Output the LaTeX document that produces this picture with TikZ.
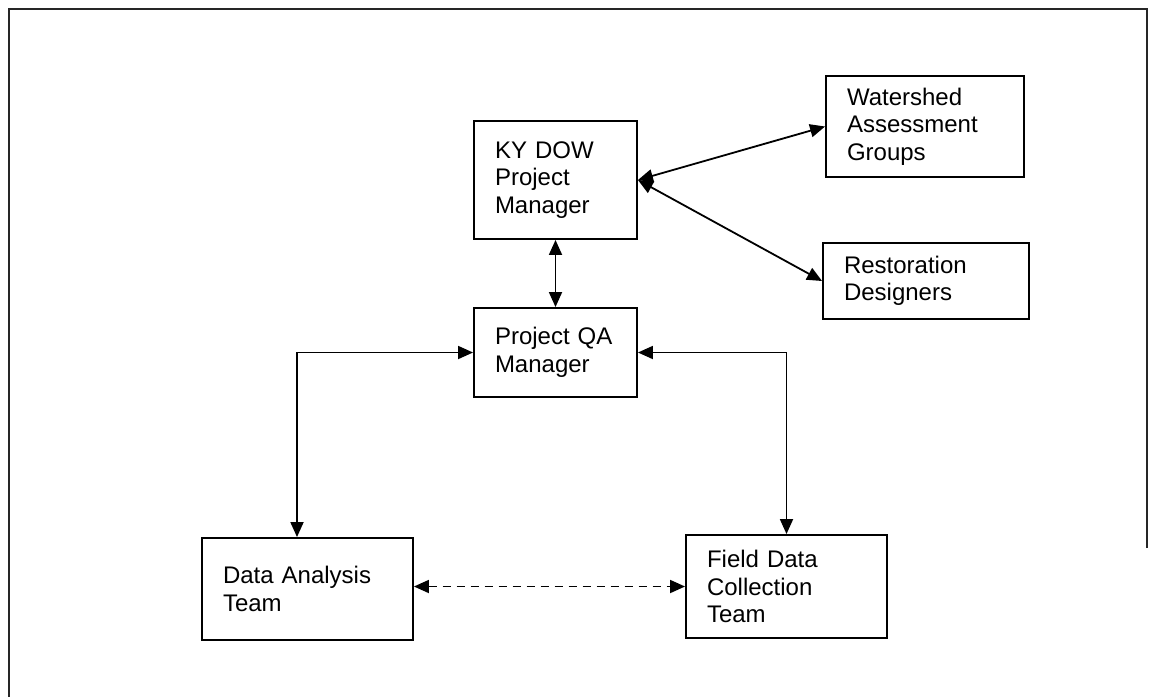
\documentclass[tikz,border=0pt]{standalone}
\usepackage{fontspec}
\setmainfont{Liberation Sans}
\usepackage{tikz}
\usetikzlibrary{arrows.meta,positioning}

\begin{document}
\begin{tikzpicture}[x=1pt, y=-1pt,
		box/.style={draw, line width=1.9pt, inner xsep=21pt, inner ysep=0pt, align=left,
			font=\fontsize{24}{27.5}\selectfont},
		link/.style={line width=1.8pt, {Triangle[length=15pt,width=13pt]}-{Triangle[length=15pt,width=13pt]}}]
		\useasboundingbox (0,0) rectangle (1156,697);
		
		% Frame
		\draw[line width=2.5pt, black!85] (1147,548) -- (1147,9) -- (9,9) -- (9,697);
		
		% Boxes
		\node[box, text width=121pt, minimum height=118pt] (kydow) at (555.5,180) {KY DOW\\Project\\Manager};
		\node[box, text width=156pt, minimum height=101pt] (groups) at (925,126.5) {Watershed\\Assessment\\Groups};
		\node[box, text width=164pt, minimum height=76pt] (designers) at (926,281) {Restoration\\Designers};
		\node[box, text width=121pt, minimum height=89pt] (qa) at (555.5,352.5) {Project QA\\Manager};
		\node[box, text width=169pt, minimum height=102pt] (analysis) at (307.5,589) {Data Analysis\\Team};
		\node[box, text width=159pt, minimum height=103pt] (field) at (786.5,586.5) {Field Data\\Collection\\Team};
		
		% Connectors
		\draw[link] (kydow.east) -- (groups.west);
		\draw[link] (kydow.east) -- (designers.west);
		\draw[link] (kydow.south) -- (qa.north);
		\draw[link] (qa.west) -| ([xshift=-10.5pt]analysis.north);
		\draw[link] (qa.east) -| (field.north);
		\draw[link, dash pattern=on 8pt off 6pt] (field.west -| analysis.east) -- (field.west);
	\end{tikzpicture}
\end{document}
